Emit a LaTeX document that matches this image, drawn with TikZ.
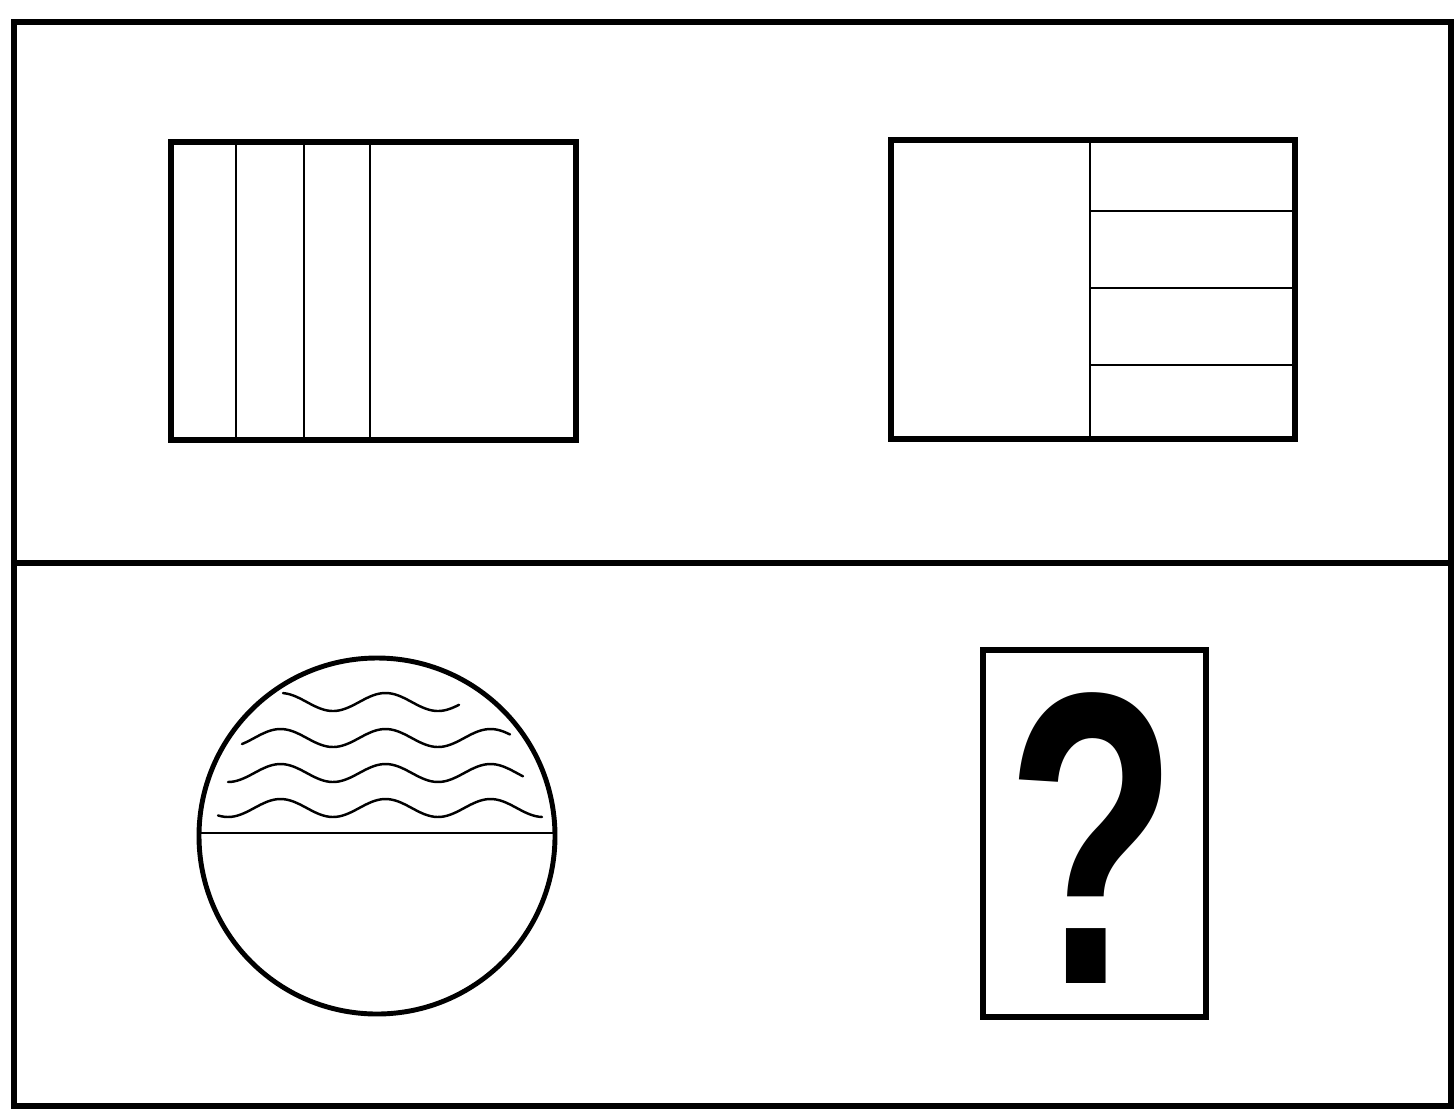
\documentclass[tikz,border=0pt]{standalone}
\usepackage{fontspec}
\newfontfamily\qfont{Liberation Sans}
\begin{document}
\begin{tikzpicture}[x=0.02cm,y=-0.02cm,
  frame/.style={draw=black,line width=3.8pt},
  box/.style={draw=black,line width=3.2pt},
  thin/.style={draw=black,line width=1.3pt},
  wave/.style={draw=black,line width=1.4pt,line cap=round}]
\useasboundingbox (0,0) rectangle (1456,1112);
% outer frame
\draw[frame] (14,22) rectangle (1451,1106);
\draw[frame] (14,563) -- (1451,563);
% top-left rectangle with vertical lines
\draw[thin] (236,142) -- (236,440);
\draw[thin] (304,142) -- (304,440);
\draw[thin] (370,142) -- (370,440);
\draw[box] (171,142) rectangle (576,440);
% top-right rectangle with horizontal lines
\draw[thin] (1090,140) -- (1090,439);
\draw[thin] (1090,211) -- (1295,211);
\draw[thin] (1090,288) -- (1295,288);
\draw[thin] (1090,365) -- (1295,365);
\draw[box] (891,140) rectangle (1295,439);
% circle with waves
\draw[thin] (200,833) -- (554,833);
\draw[wave] plot[domain=283:459,samples=80] (\x,{702+9*cos(3.428571*(\x-333))});
\draw[wave] plot[domain=242:510,samples=100] (\x,{738+9*cos(3.428571*(\x-333))});
\draw[wave] plot[domain=228:523,samples=100] (\x,{773+9*cos(3.428571*(\x-333))});
\draw[wave] plot[domain=218:542,samples=100] (\x,{808+9*cos(3.428571*(\x-333))});
\draw[box,line width=2.8pt] (377,836) circle[radius=178];
% question box
\draw[box,line width=3pt] (983,650) rectangle (1206,1017);
\node[inner sep=0pt,anchor=center] (q) at (1092,838)
  {\qfont\bfseries\scalebox{0.7}[1.04]{\fontsize{228pt}{228pt}\selectfont ?}};
\end{tikzpicture}
\end{document}
